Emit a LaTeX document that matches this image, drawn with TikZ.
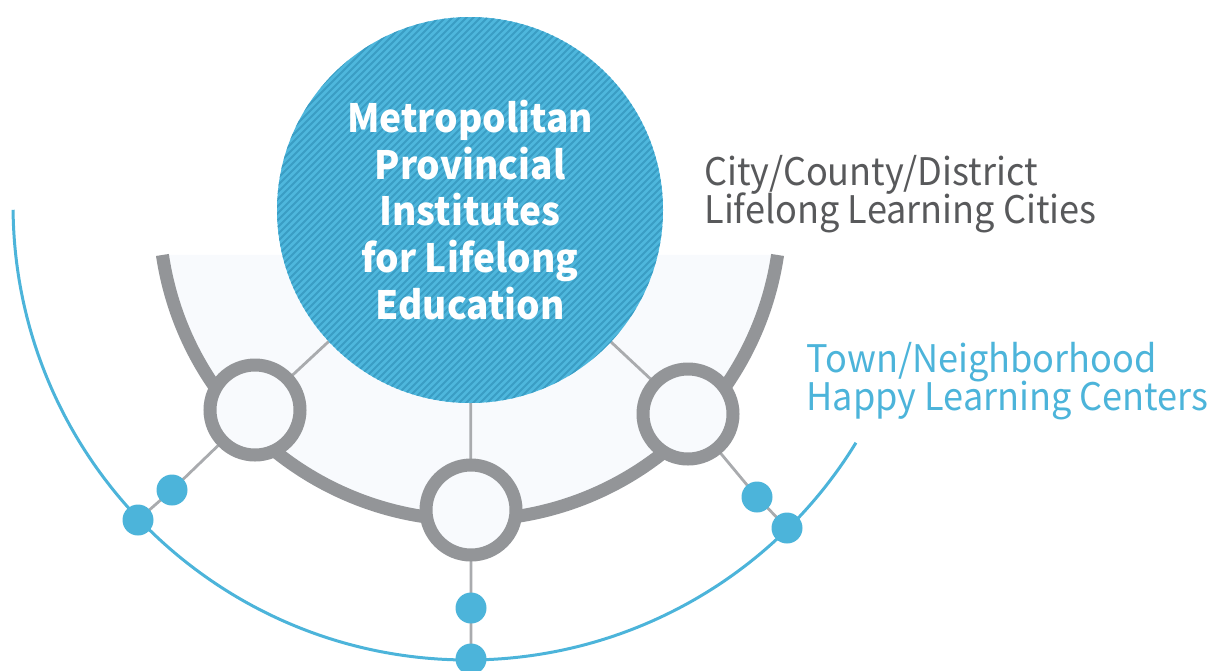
\documentclass[tikz,border=0pt]{standalone}
\usepackage{fontspec}
\newfontfamily\krfont[FakeStretch=0.95]{Noto Sans CJK KR}
\usetikzlibrary{calc, backgrounds}
\newcommand\tightlead{\lineskiplimit -20pt\relax}

\definecolor{hubblue}{HTML}{4EB7DD}
\definecolor{stripeblue}{HTML}{3A9DC4}
\definecolor{ringgray}{HTML}{939598}
\definecolor{spokegray}{HTML}{A9ABAE}
\definecolor{paleback}{HTML}{F8FAFD}
\definecolor{dotblue}{HTML}{4CB4DA}
\definecolor{textgray}{HTML}{58595B}

\begin{document}
\begin{tikzpicture}[x=0.5pt, y=-0.5pt, font=\krfont,
  hub/.style={circle, fill=hubblue, minimum size=193pt, inner sep=0pt, text=white, align=center,
    font=\krfont\bfseries\fontsize{19.5}{23.4}\selectfont,
    path picture={\foreach \k in {-42,...,42}
      \draw[stripeblue, line width=0.9pt] ($(path picture bounding box.center)+(\k*7,0)+(-220,220)$) -- ++(440,-440);}},
  city/.style={circle, draw=ringgray, line width=6.5pt, fill=paleback, minimum size=45pt, inner sep=0pt},
  town/.style={circle, fill=dotblue, minimum size=15.5pt, inner sep=0pt},
  spoke/.style={spokegray, line width=1.4pt},
  ring/.style={ringgray, line width=6.5pt},
  rim/.style={dotblue, line width=1.5pt},
  label/.style={anchor=base west, align=left, inner sep=0pt,
    font=\krfont\fontsize{19}{19}\selectfont\tightlead}]

\useasboundingbox (0,0) rectangle (1209,670);

\coordinate (O) at (470,209);
\coordinate (P) at (468,205);

\node[city] (cityL) at (255,410) {};
\node[city] (cityM) at (471,510) {};
\node[city] (cityR) at (688,414) {};

\node[town] (townLa) at (172,490) {};
\node[town] (townLb) at (138,520) {};
\node[town] (townMa) at (471,608) {};
\node[town] (townMb) at (471,659) {};
\node[town] (townRa) at (757,497) {};
\node[town] (townRb) at (787,528) {};

\node[hub] (hub) at (470,210) {Metropolitan\\Provincial\\Institutes\\for Lifelong\\Education};

\node[label, text=textgray] (citytext) at (704,223) {City/County/District\\Lifelong Learning Cities};
\node[label, text=dotblue] (towntext) at (806,410) {Town/Neighborhood\\Happy Learning Centers};

\begin{scope}[on background layer]
\fill[paleback] ([shift={(171.5:311)}]O) arc[start angle=171.5, end angle=8.5, radius=311] -- cycle;
\draw[spoke] (hub.center) -- (cityL.center) -- (townLa.center) -- (townLb.center);
\draw[spoke] (hub.center) -- (cityM.center) -- (townMa.center) -- (townMb.center);
\draw[spoke] (hub.center) -- (cityR.center) -- (townRa.center) -- (townRb.center);
\draw[ring] ([shift={(171.5:311)}]O) arc[start angle=171.5, end angle=8.5, radius=311];
\draw[rim] ([shift={(179.4:455)}]P) arc[start angle=179.4, end angle=31.5, radius=455];
\end{scope}

\end{tikzpicture}
\end{document}
